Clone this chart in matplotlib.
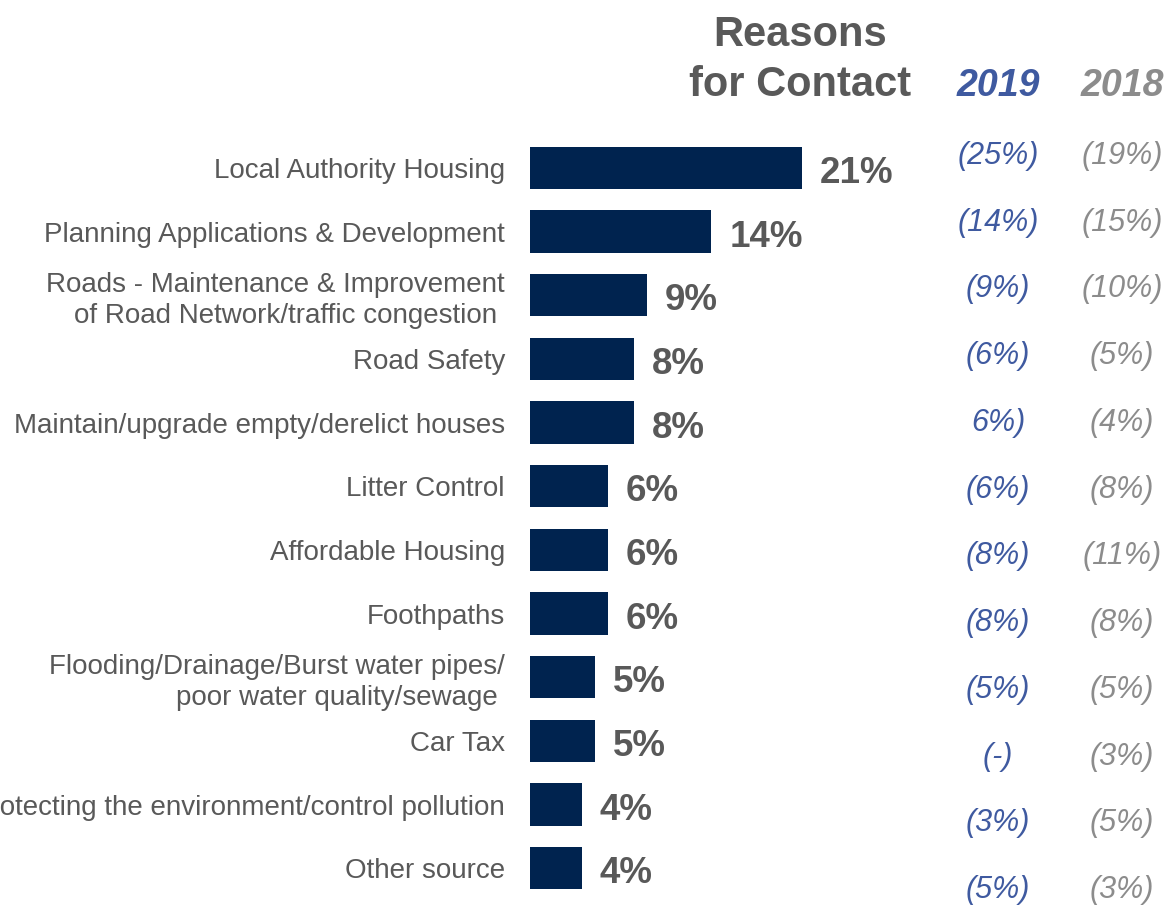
import matplotlib.pyplot as plt
import matplotlib.transforms as mtransforms

plt.rcParams['font.family'] = ['Liberation Sans', 'DejaVu Sans']

categories = [
    "Local Authority Housing",
    "Planning Applications & Development",
    "Roads - Maintenance & Improvement\nof Road Network/traffic congestion ",
    "Road Safety",
    "Maintain/upgrade empty/derelict houses",
    "Litter Control",
    "Affordable Housing",
    "Foothpaths",
    "Flooding/Drainage/Burst water pipes/\npoor water quality/sewage ",
    "Car Tax",
    "Protecting the environment/control pollution",
    "Other source",
]
values_2020 = [21, 14, 9, 8, 8, 6, 6, 6, 5, 5, 4, 4]
labels_2019 = ["(25%)", "(14%)", "(9%)", "(6%)", "6%)", "(6%)",
               "(8%)", "(8%)", "(5%)", "(-)", "(3%)", "(5%)"]
labels_2018 = ["(19%)", "(15%)", "(10%)", "(5%)", "(4%)", "(8%)",
               "(11%)", "(8%)", "(5%)", "(3%)", "(5%)", "(3%)"]

navy = "#00234f"
dark_grey = "#595959"
blue = "#3f5aa0"
light_grey = "#8c8c8c"

fig = plt.figure(figsize=(11.73, 9.05), dpi=100)
ax = fig.add_axes([530 / 1173, 5 / 905, 643 / 1173, 764 / 905])

ypos = list(range(len(categories)))
bars = ax.barh(ypos, values_2020, height=0.66, color=navy)
ax.set_xlim(0, 643 / 12.95)
ax.set_ylim(len(categories) - 0.5, -0.5)

ax.set_yticks(ypos)
ax.set_yticklabels(categories, fontsize=20, color=dark_grey, linespacing=1.22)
ax.tick_params(axis='y', length=0, pad=18)
ax.set_xticks([])
for s in ax.spines.values():
    s.set_visible(False)

for b, v in zip(bars, values_2020):
    ax.annotate(f"{v}%", (b.get_width(), b.get_y() + b.get_height() / 2),
                xytext=(13, -4), textcoords='offset points',
                ha='left', va='center', fontsize=26.5, fontweight='bold',
                color=dark_grey)

# previous-year columns sit on their own slightly wider spacing
trans = mtransforms.blended_transform_factory(fig.transFigure, ax.transData)
for i, (a, b) in enumerate(zip(labels_2019, labels_2018)):
    y = -0.19 + i * 66.8 / 63.7
    ax.text(998 / 1173, y, a, transform=trans, ha='center', va='center',
            fontsize=22, fontstyle='italic', color=blue)
    ax.text(1122 / 1173, y, b, transform=trans, ha='center', va='center',
            fontsize=22, fontstyle='italic', color=light_grey)

fig.text(800 / 1173, 1 - 60 / 905, "Reasons\nfor Contact", ha='center',
         va='center', fontsize=30, fontweight='bold', color=dark_grey,
         linespacing=1.3)
fig.text(998 / 1173, 1 - 86 / 905, "2019", ha='center', va='center',
         fontsize=27, fontweight='bold', fontstyle='italic', color=blue)
fig.text(1122 / 1173, 1 - 86 / 905, "2018", ha='center', va='center',
         fontsize=27, fontweight='bold', fontstyle='italic', color=light_grey)

fig.savefig("out.png", dpi=100)
